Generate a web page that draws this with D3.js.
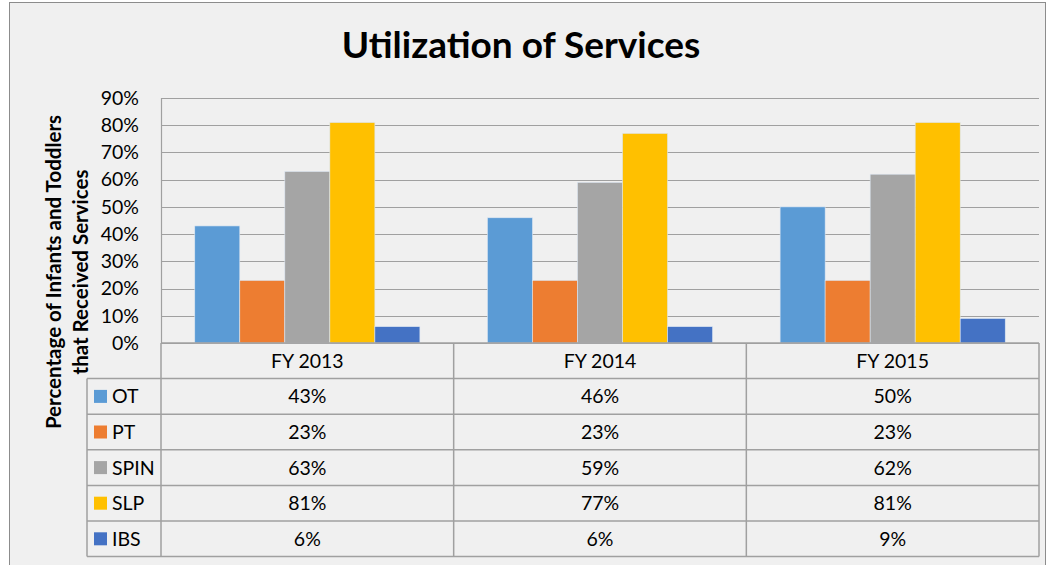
<!DOCTYPE html>
<html>
<head>
<meta charset="utf-8">
<script src="https://cdn.jsdelivr.net/npm/d3@7"></script>
<style>
  body { margin: 0; background: #fff; }
  text { font-family: Lato, "Open Sans", sans-serif; fill: #000; }
</style>
</head>
<body>
<div class="chart"></div>
<script>
// data
var years = ["FY 2013", "FY 2014", "FY 2015"];
var services = ["OT", "PT", "SPIN", "SLP", "IBS"];
var colors = ["#5B9BD5", "#ED7D31", "#A5A5A5", "#FFC000", "#4472C4"];
var otValues = [43, 46, 50];
var ptValues = [23, 23, 23];
var spinValues = [63, 59, 62];
var slpValues = [81, 77, 81];
var ibsValues = [6, 6, 9];
var yTicks = [0, 10, 20, 30, 40, 50, 60, 70, 80, 90];

var seriesValues = [otValues, ptValues, spinValues, slpValues, ibsValues];

var svgWidth = 1054, svgHeight = 565;
var plot = { left: 161, right: 1039, top: 98, bottom: 343 };
var rowH = 35.6;
var legendLeft = 87;
var fontSize = "19.5px";

var svg = d3.select(".chart").append("svg")
  .attr("width", svgWidth)
  .attr("height", svgHeight);

// chart background + frame
svg.append("rect")
  .attr("x", 9.5).attr("y", 2.5)
  .attr("width", 1036).attr("height", 580)
  .attr("fill", "#f0f0f0")
  .attr("stroke", "#8c8c8c");

svg.append("text")
  .attr("x", 521).attr("y", 58)
  .attr("text-anchor", "middle")
  .style("font-size", "37px")
  .style("font-weight", "bold")
  .text("Utilization of Services");

var x0 = d3.scaleBand().domain(years).range([plot.left, plot.right]).paddingInner(0).paddingOuter(0);
var x1 = d3.scaleBand().domain(services).range([0, x0.bandwidth()]).paddingOuter(0.75).paddingInner(0);
var y = d3.scaleLinear().domain([0, 90]).range([plot.bottom, plot.top]);

// gridlines
svg.append("g").selectAll("line")
  .data(yTicks)
  .enter().append("line")
  .attr("x1", plot.left).attr("x2", plot.right)
  .attr("y1", function (d) { return Math.round(y(d)) + 0.5; })
  .attr("y2", function (d) { return Math.round(y(d)) + 0.5; })
  .attr("stroke", "#a0a0a0")
  .attr("stroke-width", 1.2);

// left axis line
svg.append("line")
  .attr("x1", plot.left + 0.5).attr("x2", plot.left + 0.5)
  .attr("y1", plot.top).attr("y2", plot.bottom)
  .attr("stroke", "#a0a0a0").attr("stroke-width", 1.2);

// tick labels
var leftAxis = d3.axisLeft(y).tickValues(yTicks).tickSize(0).tickPadding(22)
  .tickFormat(function (d) { return d + "%"; });
var axisG = svg.append("g")
  .attr("transform", "translate(" + plot.left + ",0)")
  .call(leftAxis);
axisG.select(".domain").remove();
axisG.selectAll("text")
  .style("font-size", fontSize)
  .style("font-family", "Lato, 'Open Sans', sans-serif")
  .attr("fill", "#000");

// bars
var groups = svg.append("g").selectAll("g")
  .data(years)
  .enter().append("g")
  .attr("transform", function (d) { return "translate(" + x0(d) + ",0)"; });

groups.selectAll("rect")
  .data(function (d, i) {
    return services.map(function (s, j) { return { key: s, value: seriesValues[j][i], color: colors[j] }; });
  })
  .enter().append("rect")
  .attr("x", function (d) { return x1(d.key); })
  .attr("y", function (d) { return y(d.value); })
  .attr("width", x1.bandwidth())
  .attr("height", function (d) { return plot.bottom - y(d.value); })
  .attr("fill", function (d) { return d.color; })
  .attr("stroke", "#dce6f2")
  .attr("stroke-width", 0.6);

// data table
var table = svg.append("g").attr("stroke", "#a0a0a0").attr("stroke-width", 1.5).attr("fill", "none");
var tableBottom = plot.bottom + rowH * (services.length + 1);

// horizontal lines
table.append("line")
  .attr("x1", plot.left).attr("x2", plot.right)
  .attr("y1", plot.bottom).attr("y2", plot.bottom);
d3.range(1, services.length + 2).forEach(function (r) {
  table.append("line")
    .attr("x1", legendLeft).attr("x2", plot.right)
    .attr("y1", plot.bottom + r * rowH).attr("y2", plot.bottom + r * rowH);
});
// vertical lines
table.append("line")
  .attr("x1", legendLeft).attr("x2", legendLeft)
  .attr("y1", plot.bottom + rowH).attr("y2", tableBottom);
years.forEach(function (yr) {
  table.append("line")
    .attr("x1", x0(yr)).attr("x2", x0(yr))
    .attr("y1", plot.bottom).attr("y2", tableBottom);
});
table.append("line")
  .attr("x1", plot.right).attr("x2", plot.right)
  .attr("y1", plot.bottom).attr("y2", tableBottom);

// header row
svg.append("g").selectAll("text")
  .data(years)
  .enter().append("text")
  .attr("x", function (d) { return x0(d) + x0.bandwidth() / 2; })
  .attr("y", plot.bottom + rowH / 2 + 7)
  .attr("text-anchor", "middle")
  .style("font-size", fontSize)
  .text(function (d) { return d; });

// legend cells and values
services.forEach(function (s, j) {
  var rowY = plot.bottom + (j + 1) * rowH;
  svg.append("rect")
    .attr("x", 94).attr("y", rowY + rowH / 2 - 6.5)
    .attr("width", 13).attr("height", 13)
    .attr("fill", colors[j]);
  svg.append("text")
    .attr("x", 112).attr("y", rowY + rowH / 2 + 7)
    .style("font-size", fontSize)
    .text(s);
  years.forEach(function (yr, i) {
    svg.append("text")
      .attr("x", x0(yr) + x0.bandwidth() / 2)
      .attr("y", rowY + rowH / 2 + 7)
      .attr("text-anchor", "middle")
      .style("font-size", fontSize)
      .text(seriesValues[j][i] + "%");
  });
});

// y axis title
var yTitle = svg.append("text")
  .attr("transform", "translate(61,272) rotate(-90)")
  .attr("text-anchor", "middle")
  .style("font-size", "20.5px")
  .style("font-weight", "bold");
yTitle.append("tspan").attr("x", 0).attr("dy", 0).text("Percentage of Infants and Toddlers");
yTitle.append("tspan").attr("x", 0).attr("dy", 27).text("that Received Services");
</script>
</body>
</html>
